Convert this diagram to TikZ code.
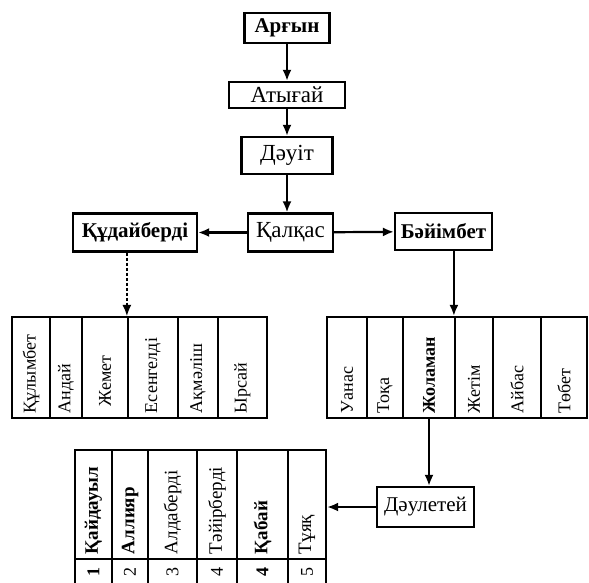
\documentclass[tikz,border=0pt]{standalone}
\usepackage{fontspec}
\setmainfont{Liberation Serif}
\usetikzlibrary{arrows,arrows.meta}

\tikzset{
  box/.style={draw, line width=2.2pt, inner sep=0pt, font=\fontsize{23}{25}\selectfont},
  boldbox/.style={box, font=\fontsize{21}{23}\selectfont\bfseries},
  cell/.style={draw, line width=2.2pt, inner sep=0pt},
  sontext/.style={rotate=90, anchor=west, inner sep=0pt, font=\fontsize{18}{20}\selectfont},
}

\begin{document}
\begin{tikzpicture}[x=1pt, y=-1pt, >={Latex[length=11pt,width=9pt]}, line width=2.2pt]
  \useasboundingbox (0,0) rectangle (589,582);
  \clip (0,0) rectangle (589,582);

  % the line down from Argyn
  \node[boldbox, minimum width=85pt, minimum height=30pt] (argyn) at (287,28) {Арғын};
  \node[box, minimum width=116pt, minimum height=26pt] (atygai) at (287,95) {Атығай};
  \node[box, minimum width=91pt, minimum height=37pt] (dauit) at (287,155.5) {Дәуіт};
  \node[box, minimum width=85pt, minimum height=38pt] (qalqas) at (290.5,232.5) {Қалқас};
  \node[boldbox, minimum width=124pt, minimum height=38pt] (qudai) at (135,232.5) {Құдайберді};
  \node[boldbox, minimum width=97pt, minimum height=37pt] (baiim) at (443.5,231.5) {Бәйімбет};
  \node[box, minimum width=97pt, minimum height=40pt, font=\fontsize{21}{23}\selectfont] (daulet) at (425.5,507) {Дәулетей};

  \draw[->] (argyn) -- (atygai);
  \draw[->] (atygai) -- (dauit);
  \draw[->] (dauit) -- (dauit |- qalqas.north);
  \draw[->] (qalqas) -- (qudai);
  \draw[->] (qalqas) -- (baiim);

  % sons of Qudaiberdi
  \node[cell, minimum width=38pt, minimum height=101pt] (l1) at (31,367.5) {};
  \node[cell, minimum width=32pt, minimum height=101pt] (l2) at (66,367.5) {};
  \node[cell, minimum width=46pt, minimum height=101pt] (l3) at (105,367.5) {};
  \node[cell, minimum width=50pt, minimum height=101pt] (l4) at (153,367.5) {};
  \node[cell, minimum width=40pt, minimum height=101pt] (l5) at (198,367.5) {};
  \node[cell, minimum width=49pt, minimum height=101pt] (l6) at (242.5,367.5) {};
  \node[sontext] at ([yshift=5pt]l1.south) {Құлымбет};
  \node[sontext] at ([yshift=5pt]l2.south) {Андай};
  \node[sontext] at ([yshift=12pt]l3.south) {Жемет};
  \node[sontext] at ([yshift=5pt]l4.south) {Есенгелді};
  \node[sontext] at ([yshift=5pt]l5.south) {Ақмәліш};
  \node[sontext] at ([yshift=5pt]l6.south) {Ырсай};

  % sons of Baiimbet
  \node[cell, minimum width=40pt, minimum height=101pt] (r1) at (347,367.5) {};
  \node[cell, minimum width=36pt, minimum height=101pt] (r2) at (385,367.5) {};
  \node[cell, minimum width=52pt, minimum height=101pt] (r3) at (429,367.5) {};
  \node[cell, minimum width=38pt, minimum height=101pt] (r4) at (474,367.5) {};
  \node[cell, minimum width=48pt, minimum height=101pt] (r5) at (517,367.5) {};
  \node[cell, minimum width=46pt, minimum height=101pt] (r6) at (564,367.5) {};
  \node[sontext] at ([yshift=5pt]r1.south) {Уанас};
  \node[sontext] at ([yshift=5pt]r2.south) {Тоқа};
  \node[sontext] at ([yshift=5pt]r3.south) {\textbf{Жоламан}};
  \node[sontext] at ([yshift=5pt]r4.south) {Жетім};
  \node[sontext] at ([yshift=5pt]r5.south) {Айбас};
  \node[sontext] at ([yshift=5pt]r6.south) {Төбет};

  \draw[->, densely dashed, line width=1.2pt] (qudai.south -| l4.north west) -- (l4.north west);
  \draw[->] (baiim.south -| r4.north west) -- (r4.north west);
  \draw[->] (r3.south) -- (r3.south |- daulet.north);

  % sons of Dauletei
  \node[cell, minimum width=37pt, minimum height=109pt] (b1) at (93.5,504.5) {};
  \node[cell, minimum width=36pt, minimum height=109pt] (b2) at (130,504.5) {};
  \node[cell, minimum width=49pt, minimum height=109pt] (b3) at (172.5,504.5) {};
  \node[cell, minimum width=40pt, minimum height=109pt] (b4) at (217,504.5) {};
  \node[cell, minimum width=51pt, minimum height=109pt] (b5) at (262.5,504.5) {};
  \node[cell, minimum width=38pt, minimum height=109pt] (b6) at (307,504.5) {};
  \node[sontext, font=\fontsize{19}{21}\selectfont] at ([yshift=5pt]b1.south) {\textbf{Қайдауыл}};
  \node[sontext, font=\fontsize{19}{21}\selectfont] at ([yshift=5pt]b2.south) {\textbf{Аллияр}};
  \node[sontext, font=\fontsize{19}{21}\selectfont] at ([yshift=5pt]b3.south) {Алдаберді};
  \node[sontext, font=\fontsize{19}{21}\selectfont] at ([yshift=5pt]b4.south) {Тәйірберді};
  \node[sontext, font=\fontsize{19}{21}\selectfont] at ([yshift=5pt]b5.south) {\textbf{Қабай}};
  \node[sontext, font=\fontsize{19}{21}\selectfont] at ([yshift=5pt]b6.south) {Тұяқ};

  \node[cell, minimum width=37pt, minimum height=41pt] (n1) at (93.5,579.5) {};
  \node[cell, minimum width=36pt, minimum height=41pt] (n2) at (130,579.5) {};
  \node[cell, minimum width=49pt, minimum height=41pt] (n3) at (172.5,579.5) {};
  \node[cell, minimum width=40pt, minimum height=41pt] (n4) at (217,579.5) {};
  \node[cell, minimum width=51pt, minimum height=41pt] (n5) at (262.5,579.5) {};
  \node[cell, minimum width=38pt, minimum height=41pt] (n6) at (307,579.5) {};
  \node[sontext] at ([yshift=-20pt]n1.north) {\textbf{1}};
  \node[sontext] at ([yshift=-20pt]n2.north) {2};
  \node[sontext] at ([yshift=-20pt]n3.north) {3};
  \node[sontext] at ([yshift=-20pt]n4.north) {4};
  \node[sontext] at ([yshift=-20pt]n5.north) {\textbf{4}};
  \node[sontext] at ([yshift=-20pt]n6.north) {5};

  \draw[->] (daulet.west) -- (daulet.west -| b6.east);
\end{tikzpicture}
\end{document}
